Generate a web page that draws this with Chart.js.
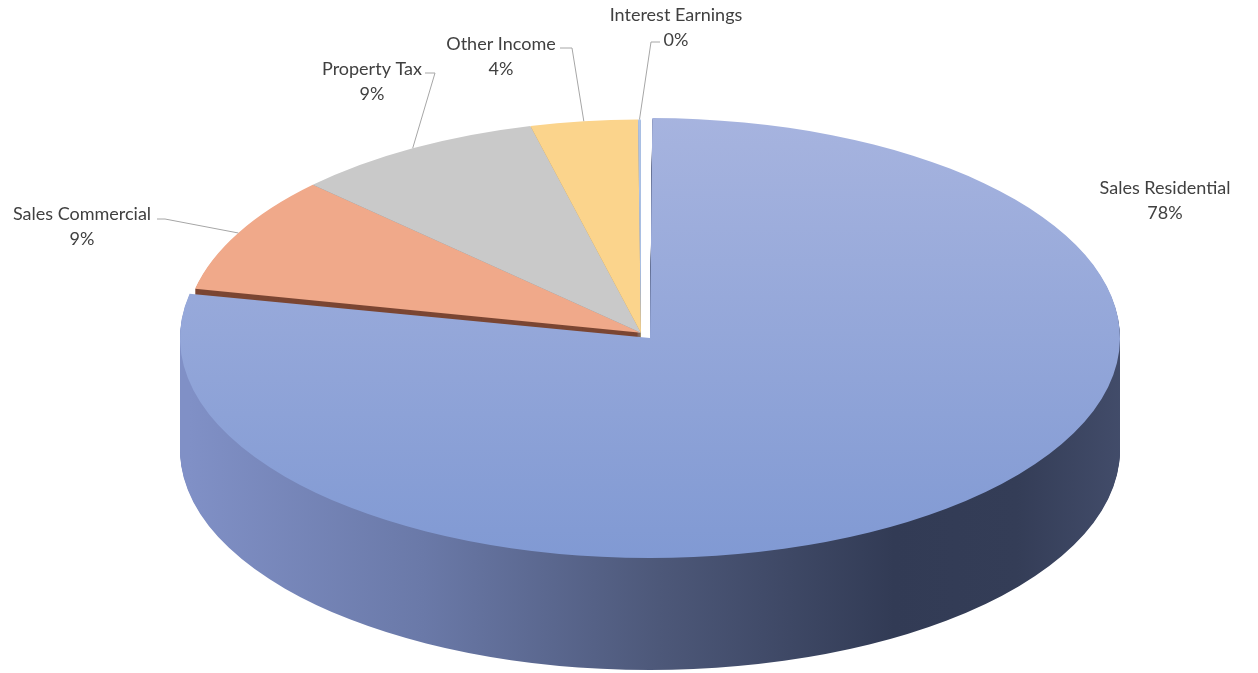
<!DOCTYPE html>
<html>
<head>
<meta charset="utf-8">
<script src="https://cdn.jsdelivr.net/npm/chart.js@4.4.1/dist/chart.umd.min.js"></script>
<style>
  html, body { margin: 0; padding: 0; background: #fff; }
  #wrap { width: 1258px; height: 673px; }
</style>
</head>
<body>
<div id="wrap"><canvas id="pie" width="1258" height="673"></canvas></div>
<script>
// data
const categories = ["Sales Residential", "Sales Commercial", "Property Tax", "Other Income", "Interest Earnings"];
const shares = [78.3, 8.9, 8.9, 3.8, 0.1];

// colours: top face and side wall per slice
const topColors = ["#92a5d9", "#f0a98a", "#c9c9c9", "#fbd48c", "#adc3e8"];
const sideColors = ["#5a6790", "#7b4633", "#8a8a8a", "#b4975c", "#7d8fb0"];

// where the tilted pie sits on the page (exploded slice ellipse)
const tilt = { cx: 650, cy: 338, rx: 470, ry: 220, depth: 112 };

// label boxes and leader bends (layout only)
const labelLayout = [
  { x: 1165, y: 188 },
  { x: 82, y: 214, elbow: [165, 219], end: [157, 219] },
  { x: 372, y: 69, elbow: [435, 73], end: [425, 73] },
  { x: 501, y: 44, elbow: [572, 48], end: [560, 48] },
  { x: 676, y: 15, elbow: [651, 42], end: [660, 42] }
];

function geom(chart) {
  const a = chart.getDatasetMeta(0).data[0];
  const o = (a.options.offset || 0) / 4;
  const h = (a.startAngle + a.endAngle) / 2;
  const rr = a.outerRadius + o;
  return {
    ox: a.x + Math.cos(h) * o,
    oy: a.y + Math.sin(h) * o,
    sx: tilt.rx / rr,
    sy: tilt.ry / rr,
    rr: rr
  };
}

function applyTilt(ctx, g, dy) {
  ctx.translate(tilt.cx, tilt.cy + dy);
  ctx.scale(g.sx, g.sy);
  ctx.translate(-g.ox, -g.oy);
}

function toScreen(g, px, py) {
  return [tilt.cx + g.sx * (px - g.ox), tilt.cy + g.sy * (py - g.oy)];
}

// draws the side walls, then leaves the tilt on for the library's own top faces
const tiltPlugin = {
  id: "tilt",
  beforeDatasetsDraw(chart) {
    const ctx = chart.ctx;
    const g = geom(chart);
    const arcs = chart.getDatasetMeta(0).data;

    const wall = ctx.createLinearGradient(g.ox - g.rr, 0, g.ox + g.rr, 0);
    wall.addColorStop(0, "#8090c6");
    wall.addColorStop(0.25, "#6a79a8");
    wall.addColorStop(0.5, "#4d5879");
    wall.addColorStop(0.75, "#323b55");
    wall.addColorStop(0.88, "#343d57");
    wall.addColorStop(1, "#434d6b");

    for (let d = tilt.depth; d >= 1; d--) {
      ctx.save();
      applyTilt(ctx, g, d);
      arcs.forEach((arc, i) => {
        const ghost = Object.create(arc);
        ghost.options = Object.assign({}, arc.options, {
          backgroundColor: i === 0 ? wall : sideColors[i]
        });
        ghost.draw(ctx);
      });
      ctx.restore();
    }
    ctx.save();
    applyTilt(ctx, g, 0);
  },
  afterDatasetsDraw(chart) {
    chart.ctx.restore();
  }
};

const labelPlugin = {
  id: "pieLabels",
  afterDraw(chart) {
    const ctx = chart.ctx;
    const g = geom(chart);
    const arcs = chart.getDatasetMeta(0).data;
    const total = shares.reduce((s, v) => s + v, 0);

    ctx.save();
    ctx.strokeStyle = "#a6a6a6";
    ctx.lineWidth = 1;
    arcs.forEach((arc, i) => {
      const L = labelLayout[i];
      if (!L.elbow) return;
      const o = (arc.options.offset || 0) / 4;
      const h = (arc.startAngle + arc.endAngle) / 2;
      const r = arc.outerRadius + 2 * o;
      const p = toScreen(g, arc.x + Math.cos(h) * r, arc.y + Math.sin(h) * r);
      ctx.beginPath();
      ctx.moveTo(p[0], p[1]);
      ctx.lineTo(L.elbow[0], L.elbow[1]);
      ctx.lineTo(L.end[0], L.end[1]);
      ctx.stroke();
    });

    ctx.font = "18px Lato";
    ctx.fillStyle = "#404040";
    ctx.textAlign = "center";
    ctx.textBaseline = "middle";
    arcs.forEach((arc, i) => {
      const L = labelLayout[i];
      ctx.fillText(categories[i], L.x, L.y);
      ctx.fillText(Math.round(shares[i] / total * 100) + "%", L.x, L.y + 25);
    });
    ctx.restore();
  }
};

function residentialTop(c) {
  const area = c.chart.chartArea;
  if (!area) return topColors[0];
  const cy = (area.top + area.bottom) / 2;
  const r = Math.min(area.right - area.left, area.bottom - area.top) / 2;
  const grad = c.chart.ctx.createLinearGradient(0, cy - r, 0, cy + r);
  grad.addColorStop(0, "#a7b4df");
  grad.addColorStop(1, "#8099d3");
  return grad;
}

new Chart(document.getElementById("pie"), {
  type: "pie",
  data: {
    labels: categories,
    datasets: [{
      data: shares,
      backgroundColor: c => c.dataIndex === 0 ? residentialTop(c) : topColors[c.dataIndex],
      borderWidth: 0,
      offset: [40, 0, 0, 0, 0]
    }]
  },
  options: {
    responsive: false,
    animation: false,
    events: [],
    layout: { padding: 0 },
    plugins: {
      legend: { display: false },
      tooltip: { enabled: false }
    }
  },
  plugins: [tiltPlugin, labelPlugin]
});
</script>
</body>
</html>
